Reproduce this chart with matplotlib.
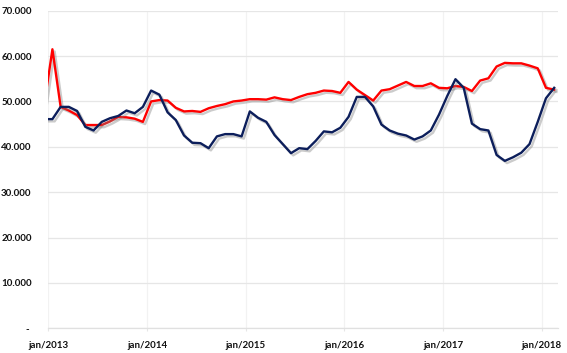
import matplotlib
matplotlib.use("Agg")
import matplotlib.pyplot as plt
import matplotlib.patheffects as pe
from matplotlib.ticker import FixedLocator, FuncFormatter

# Monthly data, Dec 2012 .. Feb 2018 (values)
start_year, start_month = 2012, 12
red_values = [49100,
    61500, 48800, 48000, 47000, 44800, 44800, 44800, 45600, 46600, 46500, 46200, 45500,
    50000, 50300, 50200, 48600, 47800, 47900, 47700, 48500, 49000, 49400, 50000, 50200,
    50500, 50500, 50400, 50900, 50500, 50300, 51000, 51600, 51900, 52400, 52300, 51900,
    54300, 52600, 51400, 50200, 52400, 52700, 53500, 54300, 53400, 53400, 54000, 53000,
    52900, 53400, 53200, 52300, 54600, 55100, 57700, 58500, 58400, 58400, 57900, 57300,
    53000, 52600]
blue_values = [46100,
    46100, 48800, 48800, 47900, 44400, 43600, 45500, 46300, 46800, 48000, 47400, 48800,
    52400, 51500, 47600, 45900, 42500, 40900, 40800, 39700, 42300, 42800, 42800, 42300,
    47800, 46400, 45500, 42600, 40600, 38600, 39700, 39500, 41300, 43400, 43200, 44200,
    46600, 51000, 51000, 48900, 44900, 43600, 42900, 42500, 41600, 42300, 43600, 47100,
    51200, 54900, 53000, 45100, 43900, 43600, 38200, 36900, 37700, 38700, 40600, 45500,
    50700, 53000]
tick_years = [2013, 2014, 2015, 2016, 2017, 2018]
y_ticks = [0, 10000, 20000, 30000, 40000, 50000, 60000, 70000]

# month index relative to Jan 2013, points placed mid-month
x_vals = [(start_year - 2013) * 12 + (start_month - 1) + i + 0.5 for i in range(len(red_values))]
x_ticks = [(y - 2013) * 12 for y in tick_years]
x_labels = [f"jan/{y}" for y in tick_years]

plt.rcParams['font.family'] = ['Lato', 'DejaVu Sans']

fig = plt.figure(figsize=(5.67, 3.53), dpi=100)
ax = fig.add_axes([48.3 / 567, (353 - 328.3) / 353, 510 / 567, 317.6 / 353])

shadow = [pe.SimpleLineShadow(offset=(1.6, -1.6), shadow_color='#7f7f7f', alpha=0.4),
          pe.Normal()]
ax.plot(x_vals, red_values, color='#ff0000', lw=1.7, path_effects=shadow, zorder=3,
        solid_joinstyle='round')
ax.plot(x_vals, blue_values, color='#0c1e5b', lw=1.7, path_effects=shadow, zorder=4,
        solid_joinstyle='round')

ax.set_xlim(0, 62)
ax.set_ylim(0, 70000)

ax.xaxis.set_major_locator(FixedLocator(x_ticks))
ax.set_xticklabels(x_labels)
ax.yaxis.set_major_locator(FixedLocator(y_ticks))
ax.yaxis.set_major_formatter(FuncFormatter(
    lambda v, p: "- " if v == 0 else f"{int(v):,}".replace(",", ".")))

for s in ['top', 'right', 'left']:
    ax.spines[s].set_visible(False)
ax.spines['bottom'].set_color('#e0e0e0')
ax.spines['bottom'].set_linewidth(0.9)

ax.grid(axis='y', color='#e6e6e6', lw=0.9)
ax.grid(axis='x', color='#f2f2f2', lw=0.9)
ax.set_axisbelow(True)

ax.tick_params(axis='y', length=0, pad=12, labelsize=7, labelcolor='#111111')
ax.tick_params(axis='x', length=2, color='#e6e6e6', pad=7, labelsize=7, labelcolor='#111111')
for lbl in ax.get_xticklabels() + ax.get_yticklabels():
    lbl.set_fontweight('bold')

fig.savefig("out.png", dpi=100, facecolor='white')
